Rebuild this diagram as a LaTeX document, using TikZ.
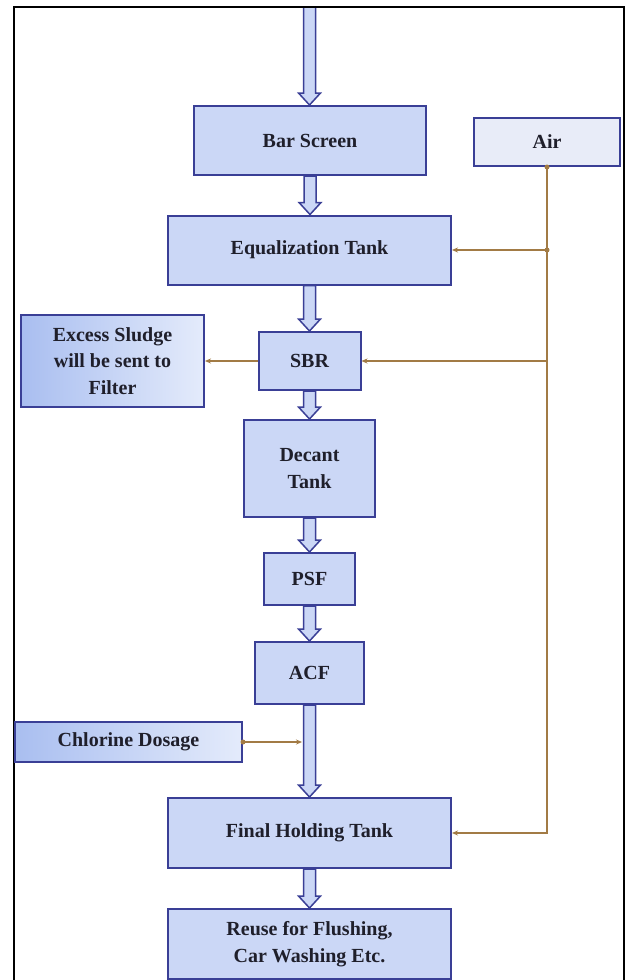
\documentclass[tikz,border=0pt]{standalone}
\usepackage{fontspec}
\setmainfont{Liberation Serif}
\usetikzlibrary{calc,arrows.meta}
\pgfdeclarelayer{background}
\pgfsetlayers{background,main}
\definecolor{boxfill}{HTML}{CBD7F6}
\definecolor{boxdraw}{HTML}{3A3F96}
\definecolor{airfill}{HTML}{E8ECF8}
\definecolor{feed}{HTML}{A27B45}
\definecolor{txt}{HTML}{1F1F2B}
\definecolor{gradA}{HTML}{A9BEF0}
\definecolor{gradB}{HTML}{E4EBFB}
\newcommand{\flowarrow}[2]{%
  \path[blk] let \p1=(#1), \p2=(#2) in
    (\x1-6pt,\y1) -- (\x1-6pt,\y2+12pt) -- (\x1-11pt,\y2+12pt) -- (\x1,\y2)
    -- (\x1+11pt,\y2+12pt) -- (\x1+6pt,\y2+12pt) -- (\x1+6pt,\y1) -- cycle;}
\begin{document}
\begin{tikzpicture}[x=1pt,y=-1pt,
  box/.style={draw=boxdraw, line width=2pt, fill=boxfill, inner sep=0pt,
    align=center, text=txt, font=\fontsize{20}{26.5}\selectfont\bfseries},
  feedline/.style={draw=feed, line width=1.2pt},
  tip/.style={-{Stealth[length=6pt,width=5pt]}},
  blk/.style={draw=boxdraw, line width=1.5pt, fill=boxfill, line join=miter}
]
\useasboundingbox (0,0) rectangle (630,980);
\begin{pgfonlayer}{background}
\fill[white] (0,0) rectangle (630,980);
\end{pgfonlayer}
% outer frame
\draw[line width=2pt] (14,980) -- (14,7) -- (624,7) -- (624,980);

% boxes
\node[box, minimum width=232pt, minimum height=69pt] (bar) at (310,140.5) {Bar Screen};
\node[box, fill=airfill, minimum width=146pt, minimum height=48pt] (air) at (547,142) {Air};
\node[box, minimum width=283pt, minimum height=69pt] (eq) at (309.5,250) {Equalization Tank};
\node[box, minimum width=102pt, minimum height=58pt] (sbr) at (309.5,361) {SBR};
\node[box, left color=gradA, right color=gradB, minimum width=183pt, minimum height=92pt] (excess) at (112.5,361) {Excess Sludge\\will be sent to\\Filter};
\node[box, minimum width=131pt, minimum height=97pt] (decant) at (309.5,468.5) {Decant\\Tank};
\node[box, minimum width=91pt, minimum height=52pt] (psf) at (309.5,579) {PSF};
\node[box, minimum width=109pt, minimum height=62pt] (acf) at (309.5,673) {ACF};
\node[box, left color=gradA, right color=gradB, minimum width=227pt, minimum height=40pt] (chlor) at (128.5,742) {Chlorine Dosage};
\node[box, minimum width=283pt, minimum height=70pt] (final) at (309.5,833) {Final Holding Tank};
\node[box, minimum width=283pt, minimum height=70pt] (reuse) at (309.5,944) {Reuse for Flushing,\\Car Washing Etc.};

\coordinate (src) at (309.5,7);
\coordinate (chlend) at (302,742);

% block flow arrows
\begin{pgfonlayer}{background}
\flowarrow{src}{bar.north}
\flowarrow{bar.south}{eq.north}
\flowarrow{eq.south}{sbr.north}
\flowarrow{sbr.south}{decant.north}
\flowarrow{decant.south}{psf.north}
\flowarrow{psf.south}{acf.north}
\flowarrow{acf.south}{final.north}
\flowarrow{final.south}{reuse.north}
\end{pgfonlayer}

% air lines
\draw[feedline, tip] (air.south) |- (final.east);
\draw[feedline, tip] (air.south |- eq.east) -- (eq.east);
\draw[feedline, tip] (air.south |- sbr.east) -- (sbr.east);
\fill[feed] (air.south) circle (2.5pt);
\fill[feed] (air.south |- eq.east) circle (2.5pt);
% sludge line
\draw[feedline, tip] (sbr.west) -- (excess.east);
% chlorine
\draw[feedline, tip] (chlor.east) -- (chlend);
\fill[feed] (chlor.east) circle (2.5pt);
\end{tikzpicture}
\end{document}
